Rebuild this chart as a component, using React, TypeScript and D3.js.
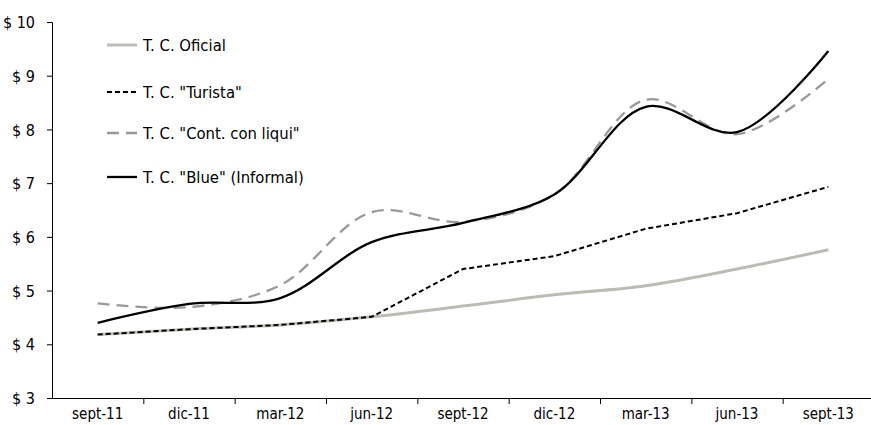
import React from "react";
import * as d3 from "d3";

const categories = ["sept-11", "dic-11", "mar-12", "jun-12", "sept-12", "dic-12", "mar-13", "jun-13", "sept-13"];
const oficial = [4.19, 4.29, 4.37, 4.52, 4.72, 4.93, 5.1, 5.41, 5.77];
const turista = [4.19, 4.29, 4.37, 4.52, 5.41, 5.65, 6.16, 6.45, 6.94];
const contConLiqui = [4.77, 4.7, 5.11, 6.47, 6.29, 6.8, 8.56, 7.92, 8.95];
const blue = [4.41, 4.76, 4.87, 5.91, 6.27, 6.8, 8.43, 7.96, 9.47];
const yTicks = [3, 4, 5, 6, 7, 8, 9, 10];
const seriesNames = ["T. C. Oficial", 'T. C. "Turista"', 'T. C. "Cont. con liqui"', 'T. C. "Blue" (Informal)'];

const W = 871;
const H = 425;
const FONT = "'DejaVu Sans Condensed', 'Liberation Sans Narrow', 'Open Sans', sans-serif";

export default function App() {
  const x = d3.scaleBand<string>().domain(categories).range([52, 874]);
  const y = d3.scaleLinear().domain([3, 10]).range([398.5, 22.5]);
  const xc = (i: number) => (x(categories[i]) as number) + x.bandwidth() / 2;

  const smooth = d3
    .line<number>()
    .x((_, i) => xc(i))
    .y((d) => y(d))
    .curve(d3.curveCatmullRom.alpha(0.5));
  const straight = d3
    .line<number>()
    .x((_, i) => xc(i))
    .y((d) => y(d))
    .curve(d3.curveMonotoneX);

  const series = [
    { name: seriesNames[0], data: oficial, stroke: "#bcbcb4", width: 3, dash: "none", gen: straight },
    { name: seriesNames[1], data: turista, stroke: "#000", width: 2, dash: "5,3", gen: d3.line<number>().x((_, i) => xc(i)).y((d) => y(d)) },
    { name: seriesNames[2], data: contConLiqui, stroke: "#999", width: 2.3, dash: "12,7", gen: smooth },
    { name: seriesNames[3], data: blue, stroke: "#000", width: 2.3, dash: "none", gen: smooth },
  ];
  const legendY = [45, 92, 133, 177];

  return (
    <svg width={W} height={H} style={{ position: "absolute", left: 0, top: 0, background: "#fff" }} fontFamily={FONT}>
      {/* y axis */}
      <line x1={52.5} x2={52.5} y1={y(10)} y2={y(3)} stroke="#000" strokeWidth={1} />
      {yTicks.map((t) => (
        <g key={t}>
          <line x1={47} x2={52.5} y1={y(t)} y2={y(t)} stroke="#000" strokeWidth={1} />
          <text x={35} y={y(t)} dy="0.35em" textAnchor="end" fontSize={16} fill="#000">
            {"$ " + t}
          </text>
        </g>
      ))}
      {/* x axis */}
      <line x1={52} x2={W} y1={398.5} y2={398.5} stroke="#000" strokeWidth={1} />
      {categories.map((c, i) => (
        <g key={c}>
          {i > 0 && (
            <line x1={(x(c) as number) + 0.5} x2={(x(c) as number) + 0.5} y1={398.5} y2={404} stroke="#000" strokeWidth={1} />
          )}
          <text x={xc(i)} y={414} dy="0.35em" textAnchor="middle" fontSize={15} fill="#000">
            {c}
          </text>
        </g>
      ))}
      {/* series */}
      {series.map((s) => (
        <path
          key={s.name}
          d={s.gen(s.data) as string}
          fill="none"
          stroke={s.stroke}
          strokeWidth={s.width}
          strokeDasharray={s.dash}
        />
      ))}
      {/* legend */}
      {series.map((s, i) => (
        <g key={"lg" + i}>
          <line x1={107} x2={137} y1={legendY[i]} y2={legendY[i]} stroke={s.stroke} strokeWidth={s.width} strokeDasharray={s.dash} />
          <text x={143} y={legendY[i]} dy="0.35em" fontSize={16.5} fill="#000">
            {s.name}
          </text>
        </g>
      ))}
    </svg>
  );
}
